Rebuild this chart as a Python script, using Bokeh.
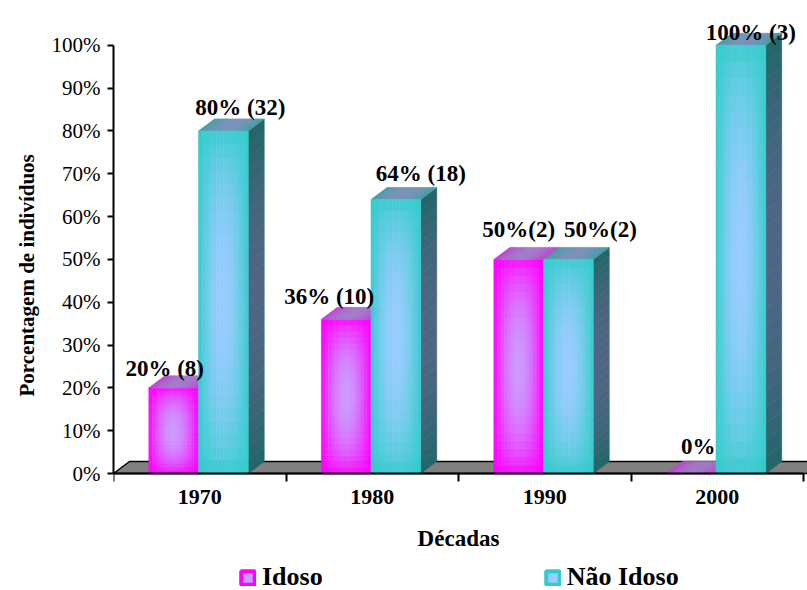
import numpy as np
from bokeh.plotting import figure
from bokeh.models import (Range1d, FixedTicker, PrintfTickFormatter, Title,
                          Legend, LegendItem, ColumnDataSource)
from bokeh.core.properties import value
from bokeh.embed import file_html
from bokeh.resources import INLINE

# ---- data -------------------------------------------------------------
decades = ["1970", "1980", "1990", "2000"]
idoso = [20, 36, 50, 0]            # % de indivíduos idosos
nao_idoso = [80, 64, 50, 100]      # % de indivíduos não idosos
idoso_labels = ["20% (8)", "36% (10)", "50%(2)", "0%"]
nao_idoso_labels = ["80% (32)", "64% (18)", "50%(2)", "100% (3)"]
y_ticks = [0, 10, 20, 30, 40, 50, 60, 70, 80, 90, 100]

# ---- styling ----------------------------------------------------------
SERIF = "Liberation Serif"
PX_X = 172.5          # pixels per decade slot
PX_Y = 4.282          # pixels per percentage point
FRAME_W, FRAME_H = 694, 590
ZERO_PX = 473         # distance of the 0 % line from the top edge
X_END = FRAME_W / PX_X
Y_START = -(FRAME_H - ZERO_PX) / PX_Y
Y_END = ZERO_PX / PX_Y
DX = 16 / PX_X        # 3-D depth, horizontal
DY = 12 / PX_Y        # 3-D depth, vertical
LEFT_OFF, MID_OFF, RIGHT_OFF = 0.205, 0.493, 0.781

MAG_EDGE, MAG_CENTER = "#ff00ff", "#cc99ff"
CYA_EDGE, CYA_CENTER = "#33cccc", "#99ccff"
MAG_TOP_EDGE, MAG_TOP_CENTER = "#c23ad2", "#a07ac8"
CYA_TOP_EDGE, CYA_TOP_CENTER = "#3a9e9e", "#7890b8"
CYA_SIDE_EDGE, CYA_SIDE_CENTER = "#1f6666", "#4e6684"

# label nudges in screen pixels (dx, dy)
idoso_nudge = [(-9, -19), (-17, -23), (0, -30), (7, -27)]
nao_idoso_nudge = [(17, -23), (25, -26), (32, -30), (10, -13)]


def rgb(c):
    return np.array([int(c[i:i + 2], 16) for i in (1, 3, 5)], dtype=float)


def blend(c1, c2, t):
    a, b = rgb(c1), rgb(c2)
    c = a + (b - a) * t
    return "#%02x%02x%02x" % tuple(int(round(v)) for v in c)


def shade(w):
    return np.sin(np.pi * w)


front = dict(left=[], right=[], bottom=[], top=[], color=[])
faces = dict(xs=[], ys=[], color=[])


def add_front(xl, xr, h, edge, center, nx=14, ny=26):
    if h <= 0:
        return
    for j in range(ny):
        v = (j + 0.5) / ny
        for k in range(nx):
            u = (k + 0.5) / nx
            t = shade(u) ** 0.9 * shade(v) ** 0.6
            front["left"].append(xl + (xr - xl) * k / nx)
            front["right"].append(xl + (xr - xl) * (k + 1) / nx)
            front["bottom"].append(h * j / ny)
            front["top"].append(h * (j + 1) / ny)
            front["color"].append(blend(edge, center, t))


def add_top(xl, xr, h, edge, center, nx=14):
    for k in range(nx):
        u = (k + 0.5) / nx
        xa = xl + (xr - xl) * k / nx
        xb = xl + (xr - xl) * (k + 1) / nx
        faces["xs"].append([xa, xb, xb + DX, xa + DX])
        faces["ys"].append([h, h, h + DY, h + DY])
        faces["color"].append(blend(edge, center, shade(u) ** 0.8))


def add_side(xr, h, edge, center, ny=26):
    if h <= 0:
        return
    for j in range(ny):
        v = (j + 0.5) / ny
        y0, y1 = h * j / ny, h * (j + 1) / ny
        faces["xs"].append([xr, xr + DX, xr + DX, xr])
        faces["ys"].append([y0, y0 + DY, y1 + DY, y1])
        faces["color"].append(blend(edge, center, shade(v) ** 0.8))


p = figure(frame_width=FRAME_W, frame_height=FRAME_H,
           x_range=Range1d(0, X_END), y_range=Range1d(Y_START, Y_END),
           toolbar_location=None, output_backend="svg",
           min_border_left=113, min_border_right=0, min_border_top=0,
           min_border_bottom=0,
           outline_line_color=None, background_fill_color="white",
           border_fill_color="white")
p.grid.visible = False

# floor of the 3-D box
p.patch(x=[0, X_END + 1, X_END + 1, DX], y=[0, 0, DY, DY],
        fill_color="#808080", line_color="black", line_width=1.5)

# bars: Idoso first, then Não Idoso in front of its right side
for i in range(len(decades)):
    xl, xm, xr = i + LEFT_OFF, i + MID_OFF, i + RIGHT_OFF
    add_front(xl, xm, idoso[i], MAG_EDGE, MAG_CENTER)
    add_top(xl, xm, idoso[i], MAG_TOP_EDGE, MAG_TOP_CENTER)

p.quad(source=ColumnDataSource(front), left="left", right="right",
       bottom="bottom", top="top", fill_color="color", line_color="color",
       line_width=0.6)
p.patches(source=ColumnDataSource(faces), xs="xs", ys="ys",
          fill_color="color", line_color="color", line_width=0.6)

front = dict(left=[], right=[], bottom=[], top=[], color=[])
faces = dict(xs=[], ys=[], color=[])
for i in range(len(decades)):
    xm, xr = i + MID_OFF, i + RIGHT_OFF
    add_side(xr, nao_idoso[i], CYA_SIDE_EDGE, CYA_SIDE_CENTER)
    add_front(xm, xr, nao_idoso[i], CYA_EDGE, CYA_CENTER)
    add_top(xm, xr, nao_idoso[i], CYA_TOP_EDGE, CYA_TOP_CENTER)

p.patches(source=ColumnDataSource(faces), xs="xs", ys="ys",
          fill_color="color", line_color="color", line_width=0.6)
p.quad(source=ColumnDataSource(front), left="left", right="right",
       bottom="bottom", top="top", fill_color="color", line_color="color",
       line_width=0.6)

# value labels
lab = dict(x=[], y=[], text=[], dx=[], dy=[])
for i in range(len(decades)):
    for val, txt, nudge, (a, b) in (
            (idoso[i], idoso_labels[i], idoso_nudge[i], (LEFT_OFF, MID_OFF)),
            (nao_idoso[i], nao_idoso_labels[i], nao_idoso_nudge[i], (MID_OFF, RIGHT_OFF))):
        lab["x"].append(i + (a + b) / 2)
        lab["y"].append(val)
        lab["text"].append(txt)
        lab["dx"].append(nudge[0])
        lab["dy"].append(nudge[1])
p.text(source=ColumnDataSource(lab), x="x", y="y", text="text",
       x_offset="dx", y_offset="dy", text_font=value(SERIF),
       text_font_size="23px", text_font_style="bold", text_color="black",
       text_align="center", text_baseline="alphabetic")

# y axis
ya = p.yaxis[0]
ya.ticker = FixedTicker(ticks=y_ticks)
ya.formatter = PrintfTickFormatter(format="%d%%")
ya.bounds = (0, 100)
ya.axis_line_width = 2
ya.major_tick_line_width = 2
ya.major_tick_out = 6
ya.major_tick_in = 0
ya.minor_tick_line_color = None
ya.major_label_standoff = 7
ya.major_label_text_font = SERIF
ya.major_label_text_font_size = "21px"
ya.major_label_text_color = "black"

# y title, anchored from the bottom of the frame
p.add_layout(Title(text="Porcentagem de indivíduos", align="left",
                   offset=FRAME_H - ZERO_PX + 77, standoff=20,
                   text_font=SERIF, text_font_size="21px",
                   text_font_style="bold", text_color="black"), "left")

# x axis drawn on the 0 % line: ticks at slot boundaries, labels at centres
xa = p.xaxis[0]
xa.fixed_location = 0
centres = [i + 0.5 for i in range(len(decades))]
xa.ticker = FixedTicker(ticks=centres,
                        minor_ticks=list(range(len(decades) + 1)))
xa.major_label_overrides = {c: d for c, d in zip(centres, decades)}
xa.bounds = (0, len(decades))
xa.axis_line_width = 2
xa.major_tick_out = 0
xa.major_tick_in = 0
xa.minor_tick_out = 8
xa.minor_tick_in = 0
xa.minor_tick_line_width = 2
xa.major_label_standoff = 8
xa.major_label_text_font = SERIF
xa.major_label_text_font_size = "22px"
xa.major_label_text_font_style = "bold"
xa.major_label_text_color = "black"
xa.axis_label = "Décadas"
xa.axis_label_standoff = 19
xa.axis_label_text_font = SERIF
xa.axis_label_text_font_size = "23px"
xa.axis_label_text_font_style = "bold"
xa.axis_label_text_color = "black"

# legend swatches: renderers without drawable geometry, used only for keys
nan = float("nan")
r_id = p.quad(left=[nan], right=[nan], bottom=[nan], top=[nan],
              fill_color=MAG_CENTER, line_color=MAG_EDGE, line_width=4)
r_ni = p.quad(left=[nan], right=[nan], bottom=[nan], top=[nan],
              fill_color=CYA_CENTER, line_color=CYA_EDGE, line_width=4)
legend = Legend(items=[LegendItem(label="Idoso", renderers=[r_id]),
                       LegendItem(label="Não Idoso", renderers=[r_ni])],
                orientation="horizontal", location=(126, -2),
                spacing=221, glyph_width=17, glyph_height=17,
                label_standoff=6, label_text_font=SERIF,
                label_text_font_size="26px", label_text_font_style="bold",
                label_text_color="black", border_line_color=None,
                background_fill_alpha=0, padding=0, margin=0)
p.add_layout(legend)

open("out.html", "w").write(file_html(p, INLINE))
